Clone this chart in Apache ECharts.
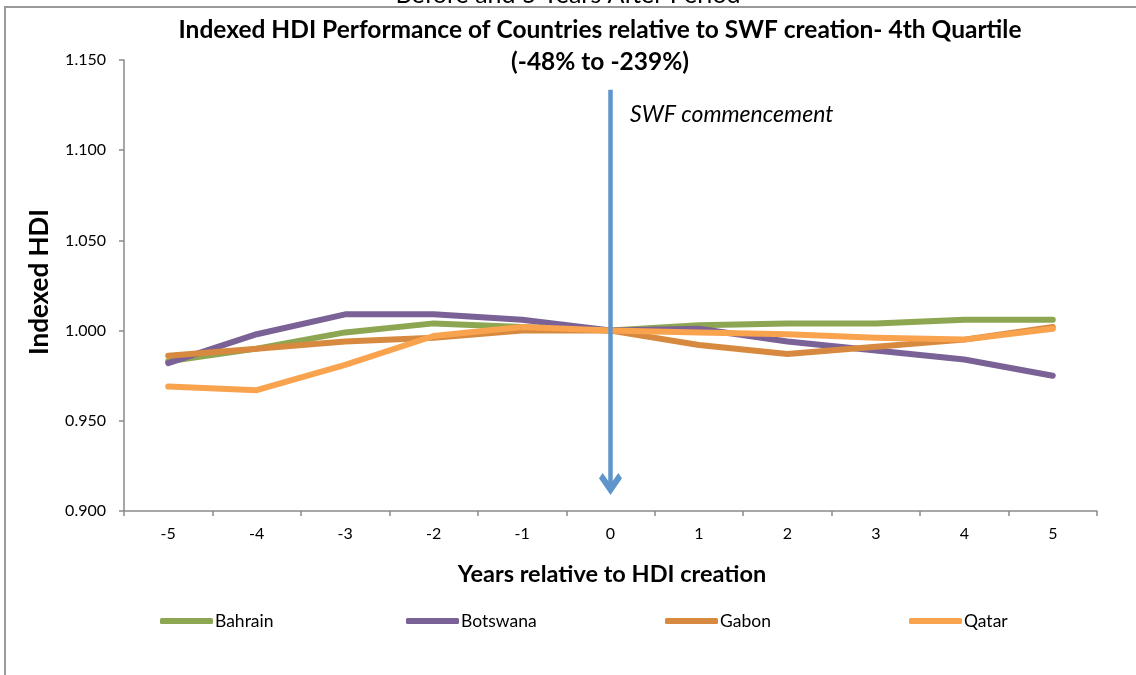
<!DOCTYPE html>
<html>
<head>
<meta charset="utf-8">
<script src="https://cdn.jsdelivr.net/npm/echarts@6/dist/echarts.min.js"></script>
<style>
  html, body { margin: 0; padding: 0; background: #fff; }
  #chart { width: 1136px; height: 675px; }
</style>
</head>
<body>
<div id="chart"></div>
<script>
// Years relative to fund creation
const years = ['-5', '-4', '-3', '-2', '-1', '0', '1', '2', '3', '4', '5'];

// Indexed HDI per country (year 0 = 1.000)
const bahrain  = [0.983, 0.990, 0.999, 1.004, 1.002, 1.000, 1.003, 1.004, 1.004, 1.006, 1.006];
const botswana = [0.982, 0.998, 1.009, 1.009, 1.006, 1.000, 1.001, 0.994, 0.989, 0.984, 0.975];
const gabon    = [0.986, 0.990, 0.994, 0.996, 1.000, 1.000, 0.992, 0.987, 0.991, 0.995, 1.002];
const qatar    = [0.969, 0.967, 0.981, 0.997, 1.002, 1.000, 0.999, 0.998, 0.996, 0.995, 1.001];

const countries = ['Bahrain', 'Botswana', 'Gabon', 'Qatar'];
const seriesValues = [bahrain, botswana, gabon, qatar];
const colors = ['#8DA652', '#7A6297', '#D78A3F', '#F9A34F'];

// Y axis range and ticks
const yMin = 0.9, yMax = 1.15, yStep = 0.05;

// Commencement arrow: drawn at year 0, spanning these index values
const arrowYear = '0';
const arrowTop = 1.1335;
const arrowEnd = 0.9150;

const FONT = 'Lato, "Open Sans", sans-serif';

const chart = echarts.init(document.getElementById('chart'), null, { renderer: 'canvas' });

// Chevron symbol pointing up (rotated along the line by ECharts)
const chevron = 'path://M10,0 L20,12.5 L16.8,16.5 L10,8.2 L3.2,16.5 L0,12.5 Z';

const legendLefts = [160, 406, 665, 909];

const option = {
  backgroundColor: '#ffffff',
  animation: false,
  textStyle: { fontFamily: FONT },
  grid: { left: 124, right: 39, top: 60, bottom: 164, containLabel: false },
  legend: countries.map((name, i) => ({
    data: [name],
    left: legendLefts[i],
    top: 612,
    padding: 0,
    itemWidth: 53,
    itemHeight: 6,
    itemGap: 0,
    icon: 'roundRect',
    textStyle: { fontFamily: FONT, fontSize: 17.5, color: '#000', padding: [0, 0, 0, -3] },
    selectedMode: false
  })),
  xAxis: {
    type: 'category',
    data: years,
    boundaryGap: true,
    axisLine: { lineStyle: { color: '#8a8a8a', width: 1.5 } },
    axisTick: { show: true, length: 5, lineStyle: { color: '#8a8a8a', width: 1.5 } },
    axisLabel: { color: '#000', fontSize: 16, fontFamily: FONT, margin: 15 },
    splitLine: { show: false }
  },
  yAxis: {
    type: 'value',
    min: yMin,
    max: yMax,
    interval: yStep,
    axisLine: { show: true, lineStyle: { color: '#8a8a8a', width: 1.5 } },
    axisTick: { show: true, length: 5, lineStyle: { color: '#8a8a8a', width: 1.5 } },
    axisLabel: { color: '#000', fontSize: 16, fontFamily: FONT, margin: 18,
                 formatter: v => v.toFixed(3) },
    splitLine: { show: false }
  },
  series: countries.map((name, i) => {
    const s = {
      name: name,
      type: 'line',
      data: seriesValues[i],
      symbol: 'none',
      smooth: false,
      lineStyle: { color: colors[i], width: 6, cap: 'round', join: 'round' },
      itemStyle: { color: colors[i] },
      z: 2 + i
    };
    if (i === 0) {
      s.markLine = {
        silent: true,
        symbol: ['none', chevron],
        symbolSize: [23, 22],
        lineStyle: { color: '#5E96CB', width: 4.5, type: 'solid' },
        label: { show: false },
        z: 10,
        data: [[
          { coord: [arrowYear, arrowTop] },
          { coord: [arrowYear, arrowEnd] }
        ]]
      };
    }
    return s;
  }),
  graphic: [
    {
      type: 'rect', silent: true, z: -1,
      shape: { x: 5, y: 7, width: 1200, height: 800 },
      style: { fill: 'none', stroke: '#9a9a9a', lineWidth: 2 }
    },
    {
      type: 'text', silent: true,
      style: { text: 'Before and 5 Years After Period', x: 568, y: -5,
               textAlign: 'center', textVerticalAlign: 'middle',
               font: '25px ' + FONT, fill: '#000' }
    },
    {
      type: 'text', silent: true,
      style: { text: 'Indexed HDI Performance of Countries relative to SWF creation- 4th Quartile',
               x: 600, y: 30, textAlign: 'center', textVerticalAlign: 'middle',
               font: 'bold 24.5px ' + FONT, fill: '#000' }
    },
    {
      type: 'text', silent: true,
      style: { text: '(-48% to -239%)', x: 600, y: 62, textAlign: 'center', textVerticalAlign: 'middle',
               font: 'bold 24.5px ' + FONT, fill: '#000' }
    },
    {
      type: 'text', silent: true,
      style: { text: 'SWF commencement', x: 630, y: 115, textAlign: 'left', textVerticalAlign: 'middle',
               font: 'italic 23px ' + FONT, fill: '#000' }
    },
    {
      type: 'text', silent: true,
      style: { text: 'Years relative to HDI creation', x: 612, y: 574, textAlign: 'center', textVerticalAlign: 'middle',
               font: 'bold 23.5px ' + FONT, fill: '#000' }
    },
    {
      type: 'text', silent: true, rotation: Math.PI / 2, x: 40, y: 282,
      style: { text: 'Indexed HDI', x: 0, y: 0, textAlign: 'center', textVerticalAlign: 'middle',
               font: 'bold 26px ' + FONT, fill: '#000' }
    }
  ]
};

chart.setOption(option);
</script>
</body>
</html>
